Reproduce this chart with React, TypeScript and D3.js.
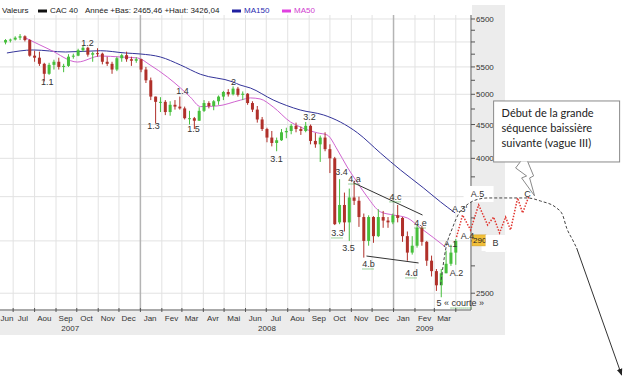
import React from "react";
import * as d3 from "d3";

// ---------- DATA ----------
// Weekly candles: [week start, open, high, low, close]
const CANDLES: [string, number, number, number, number][] = [
  ["2007-06-18", 5990, 6060, 5950, 6040],
  ["2007-06-25", 6040, 6070, 5990, 6050],
  ["2007-07-02", 6050, 6120, 6030, 6090],
  ["2007-07-09", 6090, 6168, 6040, 6120],
  ["2007-07-16", 6120, 6140, 6010, 6040],
  ["2007-07-23", 6040, 6060, 5700, 5720],
  ["2007-07-30", 5720, 5820, 5600, 5680],
  ["2007-08-06", 5680, 5800, 5520, 5560],
  ["2007-08-13", 5560, 5580, 5230, 5370],
  ["2007-08-20", 5370, 5580, 5350, 5540],
  ["2007-08-27", 5540, 5640, 5450, 5600],
  ["2007-09-03", 5600, 5680, 5450, 5500],
  ["2007-09-10", 5500, 5560, 5400, 5520],
  ["2007-09-17", 5520, 5750, 5500, 5700],
  ["2007-09-24", 5700, 5760, 5660, 5720],
  ["2007-10-01", 5720, 5860, 5710, 5830],
  ["2007-10-08", 5830, 5920, 5800, 5880],
  ["2007-10-15", 5880, 5900, 5700, 5740],
  ["2007-10-22", 5740, 5800, 5600, 5770],
  ["2007-10-29", 5770, 5870, 5700, 5760],
  ["2007-11-05", 5760, 5780, 5550, 5600],
  ["2007-11-12", 5600, 5700, 5520, 5560],
  ["2007-11-19", 5560, 5600, 5370, 5450],
  ["2007-11-26", 5450, 5700, 5420, 5670],
  ["2007-12-03", 5670, 5760, 5600, 5730],
  ["2007-12-10", 5730, 5800, 5600, 5650],
  ["2007-12-17", 5650, 5700, 5520, 5620],
  ["2007-12-24", 5620, 5690, 5580, 5650],
  ["2007-12-31", 5650, 5660, 5400, 5450],
  ["2008-01-07", 5450, 5500, 5200, 5250],
  ["2008-01-14", 5250, 5300, 4900, 4960],
  ["2008-01-21", 4960, 4960, 4520, 4870],
  ["2008-01-28", 4870, 4950, 4700, 4870],
  ["2008-02-04", 4870, 4900, 4650, 4700],
  ["2008-02-11", 4700, 4880, 4640, 4820],
  ["2008-02-18", 4820, 4900, 4740, 4790],
  ["2008-02-25", 4790, 4960, 4740, 4760],
  ["2008-03-03", 4760, 4790, 4580, 4600],
  ["2008-03-10", 4600, 4720, 4500, 4600],
  ["2008-03-17", 4600, 4620, 4430, 4560],
  ["2008-03-24", 4560, 4780, 4560, 4720],
  ["2008-03-31", 4720, 4900, 4700, 4850],
  ["2008-04-07", 4850, 4880, 4760, 4800],
  ["2008-04-14", 4800, 4900, 4730, 4880],
  ["2008-04-21", 4880, 4980, 4820, 4960],
  ["2008-04-28", 4960, 5060, 4900, 5040],
  ["2008-05-05", 5040, 5090, 4960, 5000],
  ["2008-05-12", 5000, 5140, 4980, 5100],
  ["2008-05-19", 5100, 5130, 4960, 4990],
  ["2008-05-26", 4990, 5050, 4900, 5010],
  ["2008-06-02", 5010, 5020, 4820, 4850],
  ["2008-06-09", 4850, 4880, 4700, 4740],
  ["2008-06-16", 4740, 4800, 4530, 4580],
  ["2008-06-23", 4580, 4620, 4400, 4430],
  ["2008-06-30", 4430, 4450, 4230, 4300],
  ["2008-07-07", 4300, 4400, 4170, 4220],
  ["2008-07-14", 4220, 4300, 4100, 4260],
  ["2008-07-21", 4260, 4430, 4250, 4380],
  ["2008-07-28", 4380, 4450, 4290, 4400],
  ["2008-08-04", 4400, 4510, 4350, 4480],
  ["2008-08-11", 4480, 4530, 4380, 4430],
  ["2008-08-18", 4430, 4470, 4340, 4400],
  ["2008-08-25", 4400, 4540, 4380, 4480],
  ["2008-09-01", 4480, 4500, 4200, 4250],
  ["2008-09-08", 4250, 4370, 4150, 4200],
  ["2008-09-15", 4200, 4330, 3950, 4300],
  ["2008-09-22", 4300, 4380, 4100, 4130],
  ["2008-09-29", 4130, 4200, 3800, 4000],
  ["2008-10-06", 4000, 4020, 3170, 3180],
  ["2008-10-13", 3200, 3720, 3180, 3400],
  ["2008-10-20", 3400, 3550, 3100, 3200],
  ["2008-10-27", 3200, 3600, 3000, 3490],
  ["2008-11-03", 3490, 3700, 3400, 3450],
  ["2008-11-10", 3450, 3500, 3150, 3260],
  ["2008-11-17", 3260, 3300, 2830, 3000],
  ["2008-11-24", 3000, 3280, 2950, 3260],
  ["2008-12-01", 3260, 3270, 2980, 3050],
  ["2008-12-08", 3050, 3350, 3040, 3260],
  ["2008-12-15", 3260, 3330, 3140, 3220],
  ["2008-12-22", 3220, 3260, 3140, 3200],
  ["2008-12-29", 3200, 3300, 3180, 3280],
  ["2009-01-05", 3280, 3400, 3200, 3250],
  ["2009-01-12", 3250, 3260, 2990, 3050],
  ["2009-01-19", 3050, 3100, 2800, 2880],
  ["2009-01-26", 2880, 3050, 2860, 2950],
  ["2009-02-02", 2950, 3180, 2930, 3140],
  ["2009-02-09", 3140, 3160, 2950, 2990],
  ["2009-02-16", 2990, 3000, 2750, 2800],
  ["2009-02-23", 2800, 2850, 2650, 2700],
  ["2009-03-02", 2700, 2720, 2520, 2570],
  ["2009-03-09", 2570, 2720, 2465, 2680],
  ["2009-03-16", 2680, 2900, 2680, 2770],
  ["2009-03-23", 2770, 2960, 2750, 2880],
  ["2009-03-30", 2880, 3020, 2760, 3000],
];

const MA150: [string, number][] = [
  ["2007-06-22", 5774], ["2007-07-30", 5835], ["2007-09-15", 5794], ["2007-11-04", 5820],
  ["2007-12-10", 5774], ["2008-01-01", 5754], ["2008-01-30", 5694], ["2008-02-28", 5537],
  ["2008-03-28", 5360], ["2008-05-14", 5219], ["2008-05-24", 5165], ["2008-06-08", 5111],
  ["2008-07-11", 4902], ["2008-08-19", 4734], ["2008-09-22", 4652], ["2008-10-16", 4540],
  ["2008-11-10", 4371], ["2008-12-13", 4075], ["2009-01-11", 3841], ["2009-02-13", 3610],
  ["2009-03-10", 3436], ["2009-03-31", 3307],
];

const MA50: [string, number][] = [
  ["2007-07-19", 6084], ["2007-08-24", 5835], ["2007-10-02", 5595], ["2007-11-04", 5714],
  ["2007-12-03", 5694], ["2007-12-28", 5675], ["2008-01-15", 5537], ["2008-02-09", 5310],
  ["2008-02-28", 5111], ["2008-03-13", 4954], ["2008-03-28", 4790], ["2008-04-21", 4801],
  ["2008-05-25", 4900], ["2008-06-08", 4937], ["2008-06-22", 4920], ["2008-07-11", 4784],
  ["2008-08-05", 4540], ["2008-08-19", 4462], ["2008-09-13", 4371], ["2008-09-27", 4339],
  ["2008-10-12", 4118], ["2008-10-26", 3881], ["2008-11-10", 3673], ["2008-11-24", 3497],
  ["2008-12-13", 3320], ["2009-01-01", 3283], ["2009-01-21", 3249], ["2009-02-09", 3138],
  ["2009-02-28", 3033], ["2009-03-17", 2937],
];

// Annotations: [day offset from 2009-01-01, value]
const WAVE_LABELS: [string, number, number][] = [
  ["1.1", -500.5, 5219], ["1.2", -442.6, 5979], ["1.3", -347.2, 4477], ["1.4", -305.2, 5058],
  ["1.5", -289.3, 4431], ["2", -231.4, 5219], ["3.1", -169.2, 3991], ["3.2", -121.5, 4620],
  ["3.3", -81, 3084], ["3.4", -75.2, 3814], ["3.5", -65.1, 2927], ["4.a", -56.4, 3722],
  ["4.b", -36.2, 2768], ["4.c", 2.9, 3497], ["4.d", 26, 2683], ["4.e", 39, 3193],
  ["A.1", 82.5, 2968], ["A.2", 91.1, 2683], ["A.3'", 95.5, 3353], ["A.4", 107, 3052],
  ["A.5", 121.5, 3533], ["B", 147.5, 2978], ["C", 193.8, 3533],
];
const SQUIGGLED = ["3.3", "4.a", "4.b", "4.c", "4.d", "4.e"];
const BOXED = ["A.5", "B"];
const LOW_LABEL: [string, string, number, number] = ["5 « ", "courte »", 62.2, 2416];

const TREND_UPPER: [number, number][] = [[-57.9, 3673], [41.9, 3283]];
const TREND_LOWER: [number, number][] = [[-39.1, 2846], [36.2, 2778]];
const PROJ_DASHED: [number, number][] = [
  [68, 2573], [75.2, 2906], [85.3, 3140], [94, 3295], [104.2, 3388], [115.7, 3450],
  [136, 3484], [193.8, 3484], [212.6, 3447], [235.8, 3364], [244.5, 3283], [250.3, 3138],
  [259, 3010], [264.7, 2927],
];
const PROJ_ARROW: [number, number][] = [[264.7, 2927], [329.8, 1880]];
const ZIGZAG: [number, number][] = [
  [91.1, 3041], [99.8, 3283], [111.4, 3116], [123, 3400], [136, 3171], [144.7, 3260],
  [153.3, 3084], [162, 3260], [169.2, 3116], [179.4, 3484], [186.6, 3307], [195.3, 3497],
];
const CALLOUT_AT: [number, number] = [144.7, 4885];
const CALLOUT_TEXT = ["Début de la grande", "séquence baissière", "suivante (vague III)"];
const LAST_PRICE_TEXT = "2900";

const MONTH_NAMES = ["Jan", "Fev", "Mar", "Avr", "Mai", "Jun", "Jul", "Aou", "Sep", "Oct", "Nov", "Dec"];
const YEARS = [2007, 2008, 2009];
const Y_GRID = [2500, 3000, 3500, 4000, 4500, 5000, 5500, 6000, 6500];
const Y_LABELS = [2500, 4000, 4500, 5000, 5500, 6500];
const HEADER_INFO = "Année +Bas: 2465,46 +Haut: 3426,04";

// ---------- CHART ----------
const P = d3.utcParse("%Y-%m-%d");
const ORIGIN = Date.UTC(2009, 0, 1);
const D = (n: number) => new Date(ORIGIN + n * 864e5);

export default function App() {
  const PL = 0, PR = 471, PT = 15, PB = 310;
  const dStart = P("2007-06-12")!, dEnd = P("2009-04-23")!;
  const x = d3.scaleUtc().domain([dStart, dEnd]).range([PL, PR]);
  const y = d3.scaleLog().domain([2358, 6591]).range([PB, PT]);
  const font = "'Liberation Sans', Arial, sans-serif";

  const months = d3.utcMonth.range(dStart, dEnd);
  const monthLabels = d3.utcMonth.range(d3.utcMonth.floor(dStart), dEnd)
    .map((m) => ({ m, cx: x(d3.utcDay.offset(m, 14)) }))
    .filter((d) => d.cx < 455)
    .map((d) => ({ ...d, cx: Math.max(d.cx, 7) }));
  const lastDate = d3.utcDay.offset(P(CANDLES[CANDLES.length - 1][0])!, 2);
  const yearLabels = YEARS.map((yr) => {
    const a = Math.max(+new Date(Date.UTC(yr, 0, 1)), +dStart);
    const b = Math.min(+new Date(Date.UTC(yr + 1, 0, 1)), +lastDate);
    return { yr, cx: (x(new Date(a)) + x(new Date(b))) / 2 };
  });

  const maLine = d3.line<[string, number]>()
    .x((d) => x(P(d[0])!)).y((d) => y(d[1])).curve(d3.curveMonotoneX);
  const offLine = d3.line<[number, number]>().x((d) => x(D(d[0]))).y((d) => y(d[1]));
  const offCurve = d3.line<[number, number]>().x((d) => x(D(d[0]))).y((d) => y(d[1])).curve(d3.curveMonotoneX);

  const last = CANDLES[CANDLES.length - 1];
  const cx0 = x(D(CALLOUT_AT[0])), cy0 = y(CALLOUT_AT[1]);

  return (
    <svg width={630} height={379} style={{ position: "absolute", left: 0, top: 0, background: "#fff" }} fontFamily={font}>
      <defs>
        <marker id="arr" viewBox="0 0 10 10" refX="9" refY="5" markerWidth="7" markerHeight="7" orient="auto">
          <path d="M0,1 L10,5 L0,9 Z" fill="#222" />
        </marker>
      </defs>
      <rect x={0} y={0} width={630} height={379} fill="#fff" />
      {/* grey frame areas */}
      <rect x={PR + 1} y={5} width={33} height={330} fill="#ececec" />
      <rect x={0} y={PB + 1} width={PR + 34} height={24} fill="#ececec" />

      {/* grid */}
      {Y_GRID.map((v) => (
        <line key={"hg" + v} x1={PL} x2={PR} y1={y(v)} y2={y(v)} stroke="#e2e2e2" />
      ))}
      {months.map((m, i) => (
        <line key={"vg" + i} x1={x(m)} x2={x(m)} y1={PT} y2={PB}
          stroke={m.getUTCMonth() === 0 ? "#b4b4b4" : "#e2e2e2"} strokeWidth={m.getUTCMonth() === 0 ? 1.5 : 1} />
      ))}

      {/* axes */}
      <line x1={PL} x2={PR} y1={PB} y2={PB} stroke="#555" />
      {months.map((m, i) => (
        <line key={"xt" + i} x1={x(m)} x2={x(m)} y1={PB - 2} y2={PB + 2} stroke="#555" />
      ))}
      {monthLabels.map((d, i) => (
        <text key={"ml" + i} x={d.cx} y={321} fontSize={8} fill="#333" textAnchor="middle">
          {MONTH_NAMES[d.m.getUTCMonth()]}
        </text>
      ))}
      {yearLabels.map((d) => (
        <text key={"yl" + d.yr} x={d.cx} y={331} fontSize={8} fill="#333" textAnchor="middle">{d.yr}</text>
      ))}
      <line x1={PR} x2={PR} y1={PT} y2={PB} stroke="#555" />
      {d3.range(2500, 6501, 250).map((v) => (
        <line key={"yt" + v} x1={PR} x2={PR + 4} y1={y(v)} y2={y(v)} stroke="#555" />
      ))}
      {Y_LABELS.map((v) => (
        <text key={"ylb" + v} x={PR + 5} y={y(v) + 3} fontSize={8} fill="#333">{v}</text>
      ))}

      {/* header legend */}
      <text x={2} y={13} fontSize={8} fill="#222">Valeurs</text>
      <rect x={38} y={9.5} width={9} height={3} fill="#111" />
      <text x={50} y={13} fontSize={8} fill="#222">CAC 40</text>
      <text x={85} y={13} fontSize={8} fill="#222">{HEADER_INFO}</text>
      <rect x={232} y={9.5} width={9} height={3} fill="#1f1fa0" />
      <text x={244} y={13} fontSize={8} fill="#2b2bb0">MA150</text>
      <rect x={282} y={9.5} width={9} height={3} fill="#e040e0" />
      <text x={294} y={13} fontSize={8} fill="#d040d0">MA50</text>

      {/* moving averages */}
      <path d={maLine(MA150)!} fill="none" stroke="#34349a" strokeWidth={1} />
      <path d={maLine(MA50)!} fill="none" stroke="#d064d0" strokeWidth={1} />

      {/* candles */}
      {CANDLES.map(([dt, o, h, l, c]) => {
        const cx = x(d3.utcDay.offset(P(dt)!, 2));
        const up = c >= o;
        const col = up ? "#46bf3c" : "#b0302a";
        const top = y(Math.max(o, c)), bot = y(Math.min(o, c));
        return (
          <g key={dt}>
            <line x1={cx} x2={cx} y1={y(h)} y2={y(l)} stroke={col} strokeWidth={1} />
            <rect x={cx - 1.5} y={top} width={3} height={Math.max(bot - top, 1)} fill={col} />
          </g>
        );
      })}

      {/* trend lines */}
      <path d={offLine(TREND_UPPER)!} stroke="#333" fill="none" />
      <path d={offLine(TREND_LOWER)!} stroke="#333" fill="none" />

      {/* white label boxes */}
      {WAVE_LABELS.filter((d) => BOXED.includes(d[0])).map(([t, o, v]) => (
        <rect key={"bx" + t} x={x(D(o)) - 14} y={y(v) - 8} width={30} height={16} fill="#fff" />
      ))}

      {/* last price marker */}
      <rect x={PR + 1} y={y(last[4]) - 6} width={14} height={11} fill="#f2bf38" stroke="#c99a1c" strokeWidth={0.5} />
      <text x={PR + 2} y={y(last[4]) + 2.5} fontSize={8} fill="#222">{LAST_PRICE_TEXT}</text>
      {WAVE_LABELS.filter((d) => d[0] === "B").map(([t, o, v]) => (
        <rect key="bbox" x={x(D(o)) - 10} y={y(v) - 8} width={24} height={17} fill="#fff" />
      ))}

      {/* projections */}
      <path d={offCurve(PROJ_DASHED)!} fill="none" stroke="#444" strokeWidth={1} strokeDasharray="3,2" />
      <path d={offLine(PROJ_ARROW)!} fill="none" stroke="#333" strokeWidth={1} markerEnd="url(#arr)" />
      <path d={offLine(ZIGZAG)!} fill="none" stroke="#e0352f" strokeWidth={1.5} strokeDasharray="1.5,1.5" />

      {/* wave labels */}
      {WAVE_LABELS.map(([t, o, v]) => {
        const lx = x(D(o)), ly = y(v);
        return (
          <g key={"wl" + t}>
            <text x={lx} y={ly + 3.2} fontSize={9} fill="#333" textAnchor="middle">{t}</text>
            {SQUIGGLED.includes(t) && (
              <line x1={lx - 6} x2={lx + 6} y1={ly + 5} y2={ly + 5} stroke="#3aa53a" strokeDasharray="1,1" />
            )}
          </g>
        );
      })}
      {(() => {
        const lx = x(D(LOW_LABEL[2])), ly = y(LOW_LABEL[3]);
        return (
          <g>
            <text x={lx} y={ly + 3.2} fontSize={9} fill="#333">
              {LOW_LABEL[0]}{LOW_LABEL[1]}
            </text>
            <line x1={lx + 14} x2={lx + 36} y1={ly + 5} y2={ly + 5} stroke="#3aa53a" strokeDasharray="1,1" />
          </g>
        );
      })()}

      {/* callout */}
      <rect x={cx0} y={cy0} width={126} height={61} fill="#fff" stroke="#8a8a8a" />
      <path
        d={`M${cx0 + 27},${cy0 + 60.5} L${cx0 + 22},${cy0 + 67} L${cx0 + 33},${cy0 + 75} L${cx0 + 28},${cy0 + 77} L${cx0 + 41},${cy0 + 95} L${cx0 + 36},${cy0 + 77} L${cx0 + 40},${cy0 + 75} L${cx0 + 34},${cy0 + 60.5}`}
        fill="#fff" stroke="#8a8a8a" />
      {CALLOUT_TEXT.map((t, i) => (
        <text key={"ct" + i} x={cx0 + 8} y={cy0 + 16 + i * 15} fontSize={11} fill="#222" fontFamily="Lato, 'Open Sans', sans-serif">{t}</text>
      ))}
    </svg>
  );
}
